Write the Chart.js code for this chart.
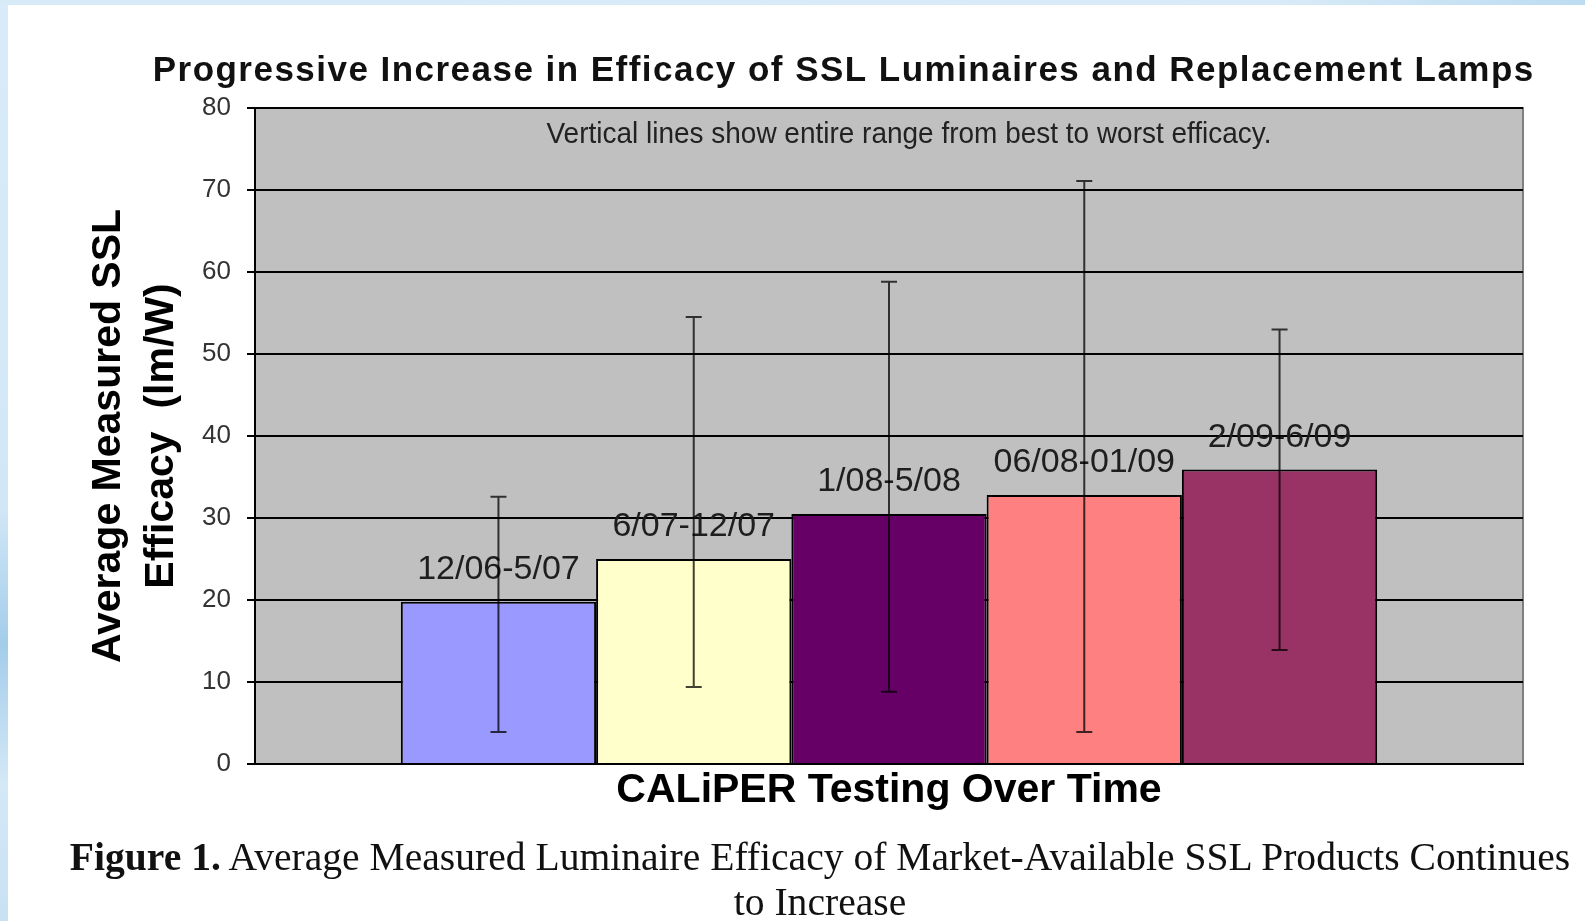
<!DOCTYPE html>
<html>
<head>
<meta charset="utf-8">
<title>Progressive Increase in Efficacy of SSL Luminaires and Replacement Lamps</title>
<script src="https://cdn.jsdelivr.net/npm/chart.js@4.4.0/dist/chart.umd.min.js"></script>
<style>
  html, body { margin: 0; padding: 0; }
  body {
    width: 1585px; height: 921px; overflow: hidden; position: relative;
    background: linear-gradient(to bottom, #d9ebf8 0%, #d2e7f6 55%, #a3cdea 70%, #d4e8f6 85%, #c8e1f3 100%);
  }
  #page { position: absolute; left: 8px; top: 5px; right: 0; bottom: 0; background: #fff; }
  #topband { position: absolute; left: 0; top: 0; width: 1585px; height: 5px;
    background: linear-gradient(to right, #d6eaf8, #d9ebf8 80%, #bcdcf1); }
  #chart { position: absolute; left: 0; top: 0; }
  #caption {
    position: absolute; left: 40px; width: 1560px; top: 835px;
    text-align: center; color: #111;
    font-family: "Liberation Serif", "Times New Roman", serif;
    font-size: 39.6px; line-height: 45px;
  }
</style>
</head>
<body>
<div id="topband"></div>
<div id="page"></div>
<canvas id="chart" width="1585" height="921"></canvas>
<div id="caption"><b>Figure 1.</b> Average Measured Luminaire Efficacy of Market-Available SSL Products Continues<br>to Increase</div>

<script>
// 테스트 기간 (막대 위 라벨)
const periods = ['12/06-5/07', '6/07-12/07', '1/08-5/08', '06/08-01/09', '2/09-6/09'];
// 평균 효율 (lm/W)
const avgEfficacy = [19.8, 25.0, 30.5, 32.8, 35.9];
// 최고 / 최저 효율 (세로선 범위)
const maxEfficacy = [32.6, 54.5, 58.8, 71.1, 53.0];
const minEfficacy = [3.9, 9.4, 8.8, 3.9, 13.9];
// y축 눈금
const yTicks = [0, 10, 20, 30, 40, 50, 60, 70, 80];

const barColors = ['#9999ff', '#ffffcc', '#660066', '#ff8080', '#993366'];

const chartTitle = 'Progressive Increase in Efficacy of SSL Luminaires and Replacement Lamps';
const noteText = 'Vertical lines show entire range from best to worst efficacy.';

Chart.defaults.font.family = '"Liberation Sans", Arial, sans-serif';

// 회색 플롯 배경
const plotBg = {
    id: 'plotBg',
    beforeDraw(chart) {
        const { ctx, chartArea: a } = chart;
        ctx.save();
        ctx.fillStyle = '#c0c0c0';
        ctx.fillRect(a.left, a.top, a.width, a.height);
        ctx.strokeStyle = '#808080';
        ctx.lineWidth = 2;
        ctx.strokeRect(a.left, a.top, a.width, a.height);
        ctx.restore();
    }
};

// 막대 라벨과 범위 세로선
const rangeLines = {
    id: 'rangeLines',
    afterDatasetsDraw(chart) {
        const { ctx } = chart;
        const y = chart.scales.y;
        ctx.save();
        ctx.font = '34px "Liberation Sans", Arial, sans-serif';
        ctx.fillStyle = '#1e1e1e';
        ctx.textAlign = 'center';
        ctx.textBaseline = 'alphabetic';
        periods.forEach((p, i) => {
            const bar = chart.getDatasetMeta(i).data[0];
            ctx.fillText(p, bar.x, bar.y - 23);
        });
        ctx.strokeStyle = 'rgba(0,0,0,0.75)';
        ctx.lineWidth = 2;
        periods.forEach((p, i) => {
            const bar = chart.getDatasetMeta(i).data[0];
            const hi = y.getPixelForValue(maxEfficacy[i]);
            const lo = y.getPixelForValue(minEfficacy[i]);
            ctx.beginPath();
            ctx.moveTo(bar.x, hi); ctx.lineTo(bar.x, lo);
            ctx.moveTo(bar.x - 8, hi); ctx.lineTo(bar.x + 8, hi);
            ctx.moveTo(bar.x - 8, lo); ctx.lineTo(bar.x + 8, lo);
            ctx.stroke();
        });
        ctx.restore();
    }
};

// 제목과 안내 문구
const textLayer = {
    id: 'textLayer',
    afterDraw(chart) {
        const { ctx } = chart;
        ctx.save();
        ctx.fillStyle = '#111';
        ctx.textAlign = 'center';
        ctx.textBaseline = 'alphabetic';
        ctx.font = 'bold 35px "Liberation Sans", Arial, sans-serif';
        const w0 = ctx.measureText(chartTitle).width;
        const ls = (1382 - w0) / chartTitle.length;
        if ('letterSpacing' in ctx) ctx.letterSpacing = ls + 'px';
        ctx.fillText(chartTitle, 843 + ls / 2, 81);
        if ('letterSpacing' in ctx) ctx.letterSpacing = '0px';

        ctx.fillStyle = '#222';
        ctx.font = '29px "Liberation Sans", Arial, sans-serif';
        const w1 = ctx.measureText(noteText).width;
        ctx.translate(909, 143);
        ctx.scale(725 / w1, 1);
        ctx.fillText(noteText, 0, 0);
        ctx.restore();
    }
};

function init() {
    const ctx = document.getElementById('chart').getContext('2d');
    new Chart(ctx, {
        type: 'bar',
        data: {
            labels: [''],
            datasets: periods.map((p, i) => ({
                label: p,
                data: [avgEfficacy[i]],
                backgroundColor: barColors[i],
                borderColor: '#000',
                borderWidth: 2,
                categoryPercentage: 0.77,
                barPercentage: 1.0
            }))
        },
        options: {
            responsive: false,
            animation: false,
            layout: { padding: { left: 82, right: 62, top: 108, bottom: 108 } },
            plugins: {
                legend: { display: false },
                tooltip: { enabled: false },
                title: { display: false }
            },
            scales: {
                x: {
                    grid: { display: false },
                    border: { display: true, color: '#000', width: 2 },
                    ticks: { display: false },
                    title: {
                        display: true,
                        text: 'CALiPER Testing Over Time',
                        color: '#000',
                        font: { size: 41, weight: 'bold' },
                        padding: { top: 0, bottom: -2 }
                    },
                    afterFit: s => { s.height = 49; }
                },
                y: {
                    min: yTicks[0],
                    max: yTicks[yTicks.length - 1],
                    afterBuildTicks: s => { s.ticks = yTicks.map(v => ({ value: v })); },
                    grid: { color: '#000', lineWidth: 2, drawTicks: true, tickLength: 8, tickColor: '#000' },
                    border: { display: true, color: '#000', width: 2 },
                    ticks: { color: '#333', font: { size: 26 }, padding: 16 },
                    title: {
                        display: true,
                        text: ['Average Measured SSL', 'Efficacy  (lm/W)'],
                        color: '#000',
                        font: { size: 41, weight: 'bold', lineHeight: 1.3 },
                        padding: 0
                    },
                    afterFit: s => { s.width = 173; }
                }
            }
        },
        plugins: [plotBg, rangeLines, textLayer]
    });
}

window.onload = init;
</script>
</body>
</html>
